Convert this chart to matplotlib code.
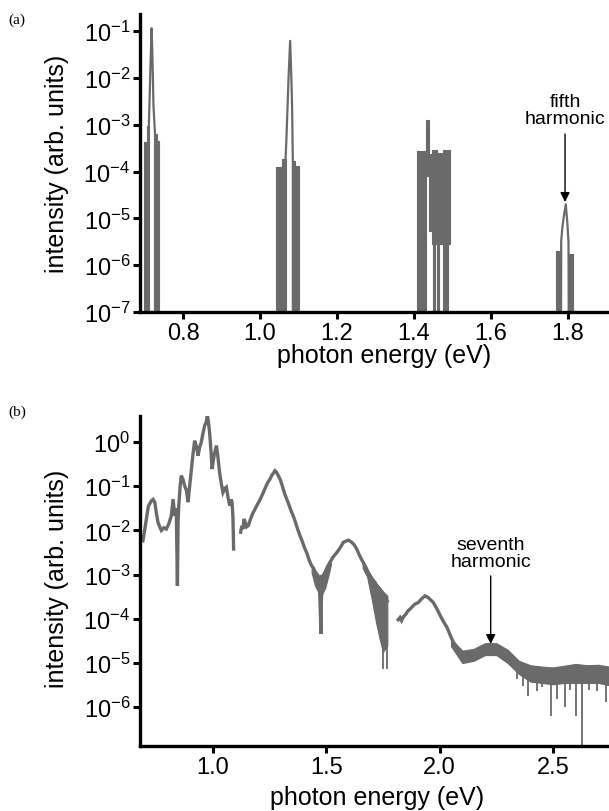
import numpy as np
import matplotlib
matplotlib.use('Agg')
import matplotlib.pyplot as plt
from matplotlib.ticker import FixedLocator, FormatStrFormatter, NullLocator

plt.rcParams['font.family'] = ['Liberation Sans', 'DejaVu Sans']
plt.rcParams['mathtext.fontset'] = 'custom'
plt.rcParams['mathtext.rm'] = 'Liberation Sans'

# ---- panel (a): harmonic peaks, intensities as log10 ----
# noise blocks (dense traces): x from, x to, top, bottom (log10)
a_blk_x0 = [0.699, 0.705, 0.727, 0.733, 1.041, 1.056, 1.085, 1.091,
            1.407, 1.430, 1.438, 1.447, 1.460, 1.475, 1.449, 1.460, 1.474,
            1.768, 1.802]
a_blk_x1 = [0.705, 0.711, 0.733, 0.737, 1.056, 1.066, 1.091, 1.102,
            1.430, 1.438, 1.447, 1.460, 1.475, 1.492, 1.454, 1.465, 1.489,
            1.781, 1.812]
a_blk_top = [-3.37, -3.03, -3.20, -3.35, -3.91, -3.73, -3.78, -3.88,
             -3.56, -2.90, -3.62, -3.55, -3.60, -3.55, -5.5, -5.5, -5.5,
             -5.69, -5.76]
a_blk_bot = [-8, -8, -8, -8, -8, -8, -8, -8,
             -8, -4.10, -5.27, -5.55, -5.55, -5.55, -8, -8, -8,
             -8, -8]

# peak outlines (drop to the floor at both ends)
a_pk1_x = [0.711, 0.711, 0.713, 0.716, 0.718, 0.720, 0.723, 0.727, 0.727]
a_pk1_y = [-8.0, -3.03, -2.40, -1.50, -0.94, -1.45, -2.60, -3.20, -8.0]
a_pk2_x = [1.066, 1.066, 1.068, 1.071, 1.074, 1.078, 1.081, 1.083, 1.085, 1.085]
a_pk2_y = [-8.0, -3.73, -3.37, -2.67, -1.96, -1.21, -1.96, -2.60, -3.78, -8.0]
a_pk4_x = [1.781, 1.782, 1.785, 1.789, 1.794, 1.798, 1.801, 1.802]
a_pk4_y = [-8.0, -5.50, -5.20, -4.95, -4.70, -5.10, -5.50, -8.0]

# ---- panel (b): broadband spectrum, log10 intensity ----
b1_x = [0.680, 0.691, 0.700, 0.706, 0.715, 0.728, 0.736, 0.743, 0.750, 0.757,
        0.765, 0.772, 0.783, 0.794, 0.805, 0.816, 0.824, 0.831, 0.838, 0.843,
        0.846, 0.849, 0.855, 0.860, 0.868, 0.875, 0.883, 0.890, 0.896, 0.902,
        0.910, 0.919, 0.927, 0.934, 0.941, 0.948, 0.956, 0.963, 0.970, 0.975,
        0.980, 0.985, 0.991, 0.996, 1.005, 1.015, 1.022, 1.029, 1.037, 1.044,
        1.052, 1.059, 1.066, 1.074, 1.080, 1.084, 1.088, 1.091]
b1_y = [-2.20, -2.23, -1.95, -1.74, -1.45, -1.33, -1.30, -1.36, -1.60, -1.81,
        -1.92, -2.00, -1.94, -1.97, -1.85, -1.67, -1.29, -1.67, -1.50, -3.25,
        -1.80, -1.44, -1.00, -0.76, -0.85, -0.99, -1.10, -1.36, -1.05, -0.76,
        -0.35, 0.03, -0.10, -0.31, -0.12, -0.01, 0.20, 0.37, 0.45, 0.61,
        0.45, 0.22, -0.20, -0.61, -0.30, -0.08, -0.35, -0.69, -0.95, -1.14,
        -1.05, -1.02, -1.25, -1.44, -1.30, -1.36, -1.70, -2.42]

b2_x = [1.122, 1.127, 1.132, 1.137, 1.141, 1.148, 1.156, 1.165, 1.175, 1.185,
        1.195, 1.205, 1.215, 1.222, 1.232, 1.241, 1.251, 1.260, 1.267, 1.273,
        1.280, 1.288, 1.296, 1.305, 1.315, 1.325, 1.335, 1.344, 1.354, 1.364,
        1.374, 1.384, 1.394, 1.403, 1.413, 1.425, 1.435, 1.442, 1.452, 1.460,
        1.466, 1.470, 1.474, 1.476, 1.478, 1.482, 1.488, 1.494, 1.505, 1.516,
        1.530, 1.546, 1.560, 1.575, 1.587, 1.597, 1.610, 1.622, 1.634, 1.645,
        1.658, 1.671, 1.685, 1.700, 1.715, 1.729, 1.745, 1.751, 1.760, 1.769]
b2_y = [-2.04, -1.90, -1.97, -1.74, -1.80, -1.92, -1.89, -1.75, -1.62, -1.52,
        -1.42, -1.33, -1.22, -1.14, -1.02, -0.92, -0.84, -0.75, -0.70, -0.65,
        -0.68, -0.76, -0.84, -0.98, -1.15, -1.29, -1.42, -1.55, -1.67, -1.82,
        -1.98, -2.12, -2.25, -2.38, -2.50, -2.68, -2.80, -2.84, -2.95, -3.00,
        -3.05, -3.30, -3.90, -4.34, -3.60, -3.10, -3.00, -2.95, -2.82, -2.72,
        -2.60, -2.50, -2.40, -2.27, -2.24, -2.22, -2.26, -2.32, -2.42, -2.55,
        -2.68, -2.80, -2.95, -3.08, -3.18, -3.30, -3.40, -3.48, -3.50, -3.60]

b3_x = [1.817, 1.825, 1.832, 1.840, 1.850, 1.860, 1.869, 1.880, 1.890, 1.906,
        1.920, 1.935, 1.950, 1.962, 1.972, 1.985, 2.001, 2.015, 2.031, 2.045,
        2.060, 2.075, 2.090, 2.105, 2.119, 2.133, 2.148, 2.165, 2.185, 2.200,
        2.222, 2.240, 2.258, 2.275, 2.296, 2.315, 2.332, 2.350, 2.369, 2.400,
        2.442, 2.480, 2.516, 2.550, 2.589, 2.630, 2.663, 2.700, 2.747]
b3_y = [-4.02, -3.97, -4.04, -3.95, -3.90, -3.82, -3.78, -3.72, -3.67, -3.63,
        -3.55, -3.48, -3.52, -3.58, -3.63, -3.75, -3.91, -4.05, -4.18, -4.35,
        -4.53, -4.64, -4.72, -4.80, -4.88, -4.82, -4.80, -4.76, -4.72, -4.68,
        -4.62, -4.64, -4.67, -4.72, -4.80, -4.90, -4.98, -5.06, -5.14, -5.20,
        -5.25, -5.28, -5.29, -5.27, -5.25, -5.25, -5.25, -5.26, -5.25]

# noisy bands (x, upper, lower)
bd1_x = [1.435, 1.450, 1.465, 1.480, 1.495, 1.510, 1.520]
bd1_hi = [-2.85, -2.98, -3.02, -3.00, -2.92, -2.75, -2.65]
bd1_lo = [-2.95, -3.25, -3.40, -3.45, -3.30, -3.00, -2.78]
bd2_x = [1.660, 1.680, 1.700, 1.720, 1.735, 1.750, 1.769]
bd2_hi = [-2.70, -2.88, -3.06, -3.20, -3.28, -3.38, -3.48]
bd2_lo = [-2.85, -3.05, -3.55, -4.10, -4.45, -4.75, -4.60]
bd3_x = [2.05, 2.10, 2.15, 2.20, 2.25, 2.30, 2.35, 2.40, 2.45, 2.50,
         2.55, 2.60, 2.65, 2.70, 2.747]
bd3_hi = [-4.45, -4.72, -4.68, -4.55, -4.55, -4.70, -4.95, -5.05, -5.08, -5.10,
          -5.06, -5.02, -5.05, -5.04, -5.08]
bd3_lo = [-4.62, -5.00, -4.95, -4.82, -4.82, -5.00, -5.25, -5.42, -5.45, -5.48,
          -5.45, -5.45, -5.45, -5.45, -5.50]

# downward noise spikes
sp_x = [1.748, 1.766, 2.340, 2.366, 2.391, 2.428, 2.450, 2.490, 2.516, 2.553,
        2.575, 2.601, 2.629, 2.660, 2.693, 2.732]
sp_lo = [-5.14, -5.14, -5.36, -5.51, -5.74, -5.63, -5.55, -6.19, -5.81, -6.00,
         -5.60, -6.19, -7.0, -5.60, -5.63, -5.89]

col = '#6a6a6a'


def style(ax, xt, yt, xlim, ylim):
	for s in ['top', 'right']:
		ax.spines[s].set_visible(False)
	for s in ['left', 'bottom']:
		ax.spines[s].set_linewidth(2.4)
		ax.spines[s].set_zorder(5)
	ax.set_yscale('log')
	ax.set_xlim(xlim)
	ax.set_ylim(ylim)
	ax.xaxis.set_major_locator(FixedLocator(xt))
	ax.xaxis.set_major_formatter(FormatStrFormatter('%.1f'))
	ax.yaxis.set_major_locator(FixedLocator(yt))
	ax.yaxis.set_minor_locator(NullLocator())
	ax.xaxis.set_minor_locator(NullLocator())
	ax.tick_params(direction='out', length=5, width=2.2, labelsize=17, pad=2)
	ax.set_xlabel('photon energy (eV)', fontsize=18)
	ax.set_ylabel('intensity (arb. units)', fontsize=18)


fig = plt.figure(figsize=(6.09, 8.12), dpi=100)

# (a)
ax = fig.add_axes([0.2299, 0.6145, 0.7668, 0.367])
for x0, x1, t, b in zip(a_blk_x0, a_blk_x1, a_blk_top, a_blk_bot):
	ax.fill_between([x0, x1], [10**b] * 2, [10**t] * 2, color=col, lw=0.8, edgecolor=col)
for px, py in [(a_pk1_x, a_pk1_y), (a_pk2_x, a_pk2_y), (a_pk4_x, a_pk4_y)]:
	ax.plot(px, 10**np.array(py), color=col, lw=1.6)
style(ax, [0.8, 1.0, 1.2, 1.4, 1.6, 1.8], [10.0**k for k in range(-7, 0)],
      (0.688, 1.901), (1e-7, 10**-0.637))
ax.xaxis.set_label_coords(0.522, -0.105)
ax.yaxis.set_label_coords(-0.152, 0.5)
ax.text(1.792, 10**-2.69, 'fifth\nharmonic', ha='center', va='center',
        fontsize=14, linespacing=1.05)
ax.annotate('', xy=(1.792, 10**-4.65), xytext=(1.792, 10**-3.20),
            arrowprops=dict(arrowstyle='-|>', color='black', lw=1.0,
                            mutation_scale=14, shrinkA=0, shrinkB=0))

# (b)
ax = fig.add_axes([0.2299, 0.0800, 0.7701, 0.4064])
for bx, by in [(b1_x, b1_y), (b2_x, b2_y), (b3_x, b3_y)]:
	ax.plot(bx, 10**np.array(by), color=col, lw=2.4, solid_joinstyle='miter')
for bx, hi, lo in [(bd1_x, bd1_hi, bd1_lo), (bd2_x, bd2_hi, bd2_lo), (bd3_x, bd3_hi, bd3_lo)]:
	ax.fill_between(bx, 10**np.array(lo), 10**np.array(hi), color=col, lw=0.8)
spx = np.array(sp_x)
sp_top = np.where(spx < 2, np.interp(spx, bd2_x, bd2_lo), np.interp(spx, bd3_x, bd3_lo))
ax.vlines(spx, 10**np.array(sp_lo), 10**sp_top, color=col, lw=1.3)
style(ax, [1.0, 1.5, 2.0, 2.5], [10.0**k for k in range(-6, 1)],
      (0.678, 2.747), (10**-6.878, 10**0.588))
ax.xaxis.set_label_coords(0.506, -0.118)
ax.yaxis.set_label_coords(-0.152, 0.51)
ax.text(2.225, 10**-2.51, 'seventh\nharmonic', ha='center', va='center',
        fontsize=14, linespacing=1.05)
ax.annotate('', xy=(2.225, 10**-4.57), xytext=(2.225, 10**-3.03),
            arrowprops=dict(arrowstyle='-|>', color='black', lw=1.0,
                            mutation_scale=14, shrinkA=0, shrinkB=0))

fig.text(0.013, 1 - 20 / 812, '(a)', family='Liberation Serif', fontsize=11, va='center')
fig.text(0.013, 1 - 412 / 812, '(b)', family='Liberation Serif', fontsize=11, va='center')

fig.savefig('out.png', dpi=100)
